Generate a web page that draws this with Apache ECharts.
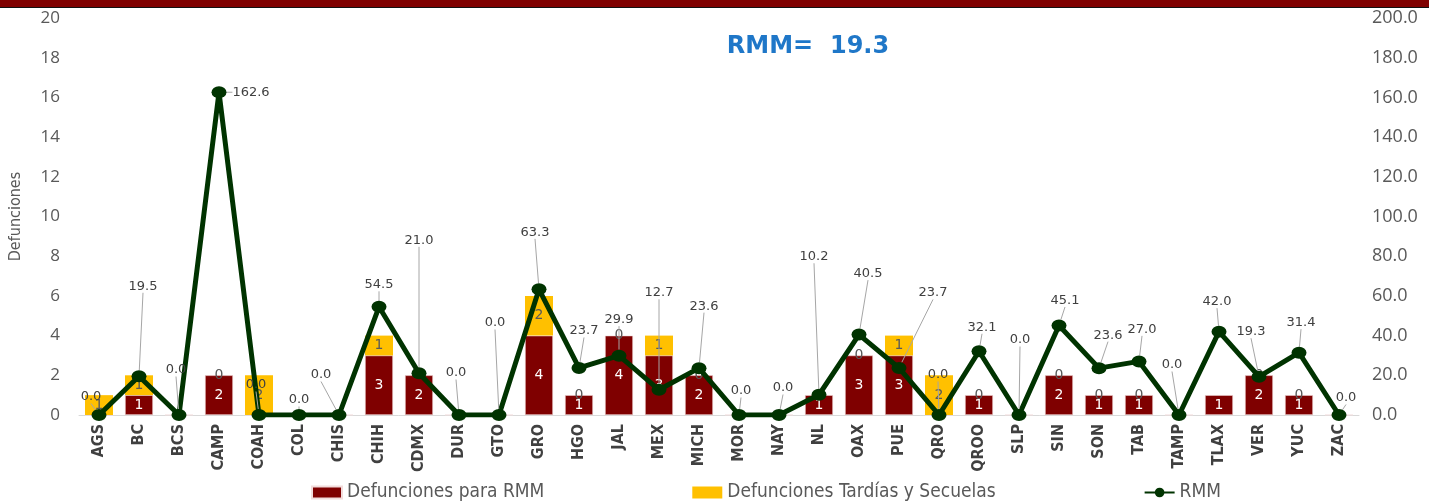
<!DOCTYPE html>
<html>
<head>
<meta charset="utf-8">
<script src="https://cdn.jsdelivr.net/npm/echarts@6/dist/echarts.min.js"></script>
<style>
html,body{margin:0;padding:0;background:#fff;}
#chart{width:1429px;height:502px;}
</style>
</head>
<body>
<div id="chart"></div>
<script>
const categories = ['AGS','BC','BCS','CAMP','COAH','COL','CHIS','CHIH','CDMX','DUR','GTO','GRO','HGO','JAL','MEX','MICH','MOR','NAY','NL','OAX','PUE','QRO','QROO','SLP','SIN','SON','TAB','TAMP','TLAX','VER','YUC','ZAC'];
const defuncionesRMM = [0,1,0,2,0,0,0,3,2,0,0,4,1,4,3,2,0,0,1,3,3,0,1,0,2,1,1,0,1,2,1,0];
const defuncionesTardias = [1,1,null,0,2,null,null,1,null,null,null,2,0,0,1,0,null,null,null,0,1,2,0,null,0,0,0,null,null,0,0,null];
const rmm = [0.0,19.5,0.0,162.6,0.0,0.0,0.0,54.5,21.0,0.0,0.0,63.3,23.7,29.9,12.7,23.6,0.0,0.0,10.2,40.5,23.7,0.0,32.1,0.0,45.1,23.6,27.0,0.0,42.0,19.3,31.4,0.0];
const leftTicks = {min:0, max:20, interval:2};
const rightTicks = {min:0, max:200, interval:20};
const titleText = 'RMM=  19.3';
// callout offsets of RMM labels (label placement, px)
const rmmLabelOffsets = [[-8,-18],[4,-90],[-3,-45],[32,0],[-3,-30],[0,-15],[-18,-40],[0,-22],[0,-133],[-3,-42],[-4,-92],[-4,-57],[5,-37],[0,-36],[0,-97],[5,-62],[2,-24],[4,-27],[-5,-138],[9,-61],[34,-75],[-1,-40],[3,-24],[1,-75],[6,-25],[9,-33],[3,-32],[-7,-50],[-2,-30],[-8,-45],[2,-30],[7,-17]];

const chart = echarts.init(document.getElementById('chart'), null, {renderer:'canvas'});
const cond = "'DejaVu Sans Condensed','Liberation Sans Narrow',sans-serif";
const option = {
  backgroundColor:'#fff',
  animation:false,
  title:{text:titleText,left:803,top:30,textAlign:'center',
    textStyle:{color:'#1F77C8',fontSize:24,fontWeight:'bold',fontFamily:"'DejaVu Sans',sans-serif"}},
  graphic:[
    {type:'rect',left:0,top:0,shape:{width:1429,height:7},style:{fill:'#7F0000'},z:10},
    {type:'rect',left:0,top:7,shape:{width:1429,height:1},style:{fill:'#111'},z:10}
  ],
  legend:{left:306,top:478,itemGap:148,itemWidth:30,itemHeight:12,
    textStyle:{color:'#595959',fontSize:19,fontFamily:cond},
    data:[{name:'Defunciones para RMM',icon:'rect'},{name:'Defunciones Tardías y Secuelas',icon:'rect'},{name:'RMM'}]},
  grid:{left:76,right:70,top:18,bottom:87},
  xAxis:{type:'category',data:categories,
    axisLine:{lineStyle:{color:'#D9D9D9',width:1}},axisTick:{show:false},
    axisLabel:{rotate:90,interval:0,margin:9,color:'#404040',fontSize:16,fontWeight:'bold',fontFamily:cond}},
  yAxis:[
    {type:'value',min:leftTicks.min,max:leftTicks.max,interval:leftTicks.interval,
      name:'Defunciones',nameLocation:'middle',nameRotate:90,nameGap:55,
      nameTextStyle:{color:'#595959',fontSize:16,fontFamily:cond},
      splitLine:{show:false},axisLine:{show:false},axisTick:{show:false},
      axisLabel:{color:'#595959',fontSize:17,margin:19,fontFamily:"'Open Sans',sans-serif"}},
    {type:'value',min:rightTicks.min,max:rightTicks.max,interval:rightTicks.interval,
      splitLine:{show:false},axisLine:{show:false},axisTick:{show:false},
      axisLabel:{color:'#595959',fontSize:18,margin:13,fontFamily:"'Open Sans',sans-serif",
        formatter:v=>v.toFixed(1)}}
  ],
  series:[
    {name:'Defunciones para RMM',type:'bar',stack:'d',data:defuncionesRMM,barWidth:'70%',
      itemStyle:{color:'#7F0000',borderColor:'#F2DCDB',borderWidth:0.6},
      label:{show:true,position:'inside',color:'#fff',fontSize:14,fontFamily:"'DejaVu Sans',sans-serif"}},
    {name:'Defunciones Tardías y Secuelas',type:'bar',stack:'d',data:defuncionesTardias,
      itemStyle:{color:'#FFC000'},
      label:{show:true,position:'inside',color:'#595959',fontSize:14,fontFamily:"'DejaVu Sans',sans-serif"}},
    {name:'RMM',type:'line',yAxisIndex:1,data:rmm,z:2,
      lineStyle:{color:'#003300',width:5},itemStyle:{color:'#003300'},
      symbol:'circle',symbolSize:[15,12],
      label:{show:true,position:'inside',color:'#404040',fontSize:13,fontFamily:"'DejaVu Sans',sans-serif",
        formatter:p=>p.value.toFixed(1)},
      labelLine:{show:true,lineStyle:{color:'#A6A6A6',width:1}},
      labelLayout:function(p){const o=rmmLabelOffsets[p.dataIndex];return {dx:o[0],dy:o[1]};}
    }
  ]
};
chart.setOption(option);
</script>
</body>
</html>
